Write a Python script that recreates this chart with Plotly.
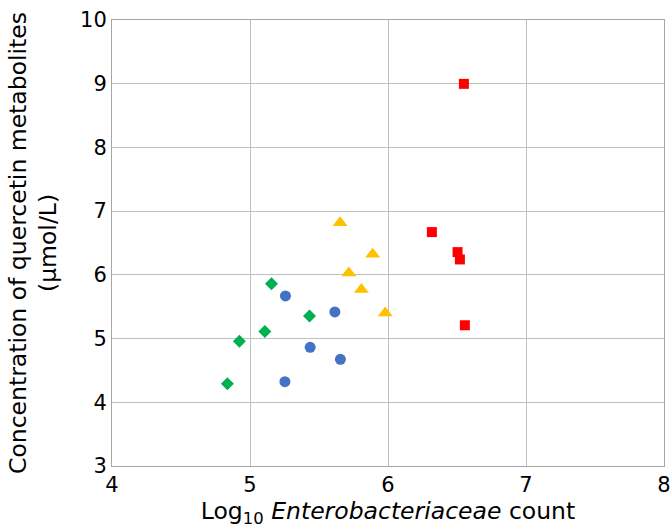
import plotly.graph_objects as go

green_x = [5.156, 5.431, 5.108, 4.923, 4.836]
green_y = [5.859, 5.355, 5.110, 4.958, 4.292]
blue_x = [5.257, 5.615, 5.436, 5.655, 5.253]
blue_y = [5.670, 5.418, 4.863, 4.675, 4.324]
yellow_x = [5.653, 5.889, 5.716, 5.807, 5.980]
yellow_y = [6.818, 6.325, 6.031, 5.770, 5.403]
red_x = [6.550, 6.318, 6.504, 6.521, 6.557]
red_y = [8.998, 6.671, 6.357, 6.242, 5.209]

fig = go.Figure()
series = [
    (green_x, green_y, "diamond", "#00B050", 10),
    (blue_x, blue_y, "circle", "#4472C4", 11),
    (yellow_x, yellow_y, "triangle-up", "#FFC000", 13),
    (red_x, red_y, "square", "#FF0000", 10),
]
for xs, ys, sym, col, sz in series:
    fig.add_trace(go.Scatter(x=xs, y=ys, mode="markers",
                             marker=dict(symbol=sym, color=col, size=sz, line=dict(width=0)),
                             showlegend=False, cliponaxis=False))

axis_common = dict(showgrid=True, gridcolor="#BFBFBF", gridwidth=1,
                   showline=True, linecolor="#A6A6A6", linewidth=1, mirror=True,
                   zeroline=False, ticks="", automargin=False,
                   ticklabeloverflow="allow",
                   tickfont=dict(size=21, color="#000"))
fig.update_xaxes(range=[4, 8], dtick=1, **axis_common,
                 title=dict(text="Log<sub>10</sub> <i>Enterobacteriaceae</i> count",
                            font=dict(size=23.5, color="#000"), standoff=3))
fig.update_yaxes(range=[3, 10], dtick=1, **axis_common,
                 title=dict(text="Concentration of quercetin metabolites<br>(μmol/L)",
                            font=dict(size=23.5, color="#000"), standoff=16))
fig.update_layout(width=671, height=528, plot_bgcolor="white", paper_bgcolor="white",
                  font=dict(family="DejaVu Sans", color="#000"),
                  margin=dict(l=112, r=7, t=20, b=62))
fig.write_html("out.html", config={"displayModeBar": False},
               post_script="document.body.style.margin='0';document.body.style.overflow='hidden';")
